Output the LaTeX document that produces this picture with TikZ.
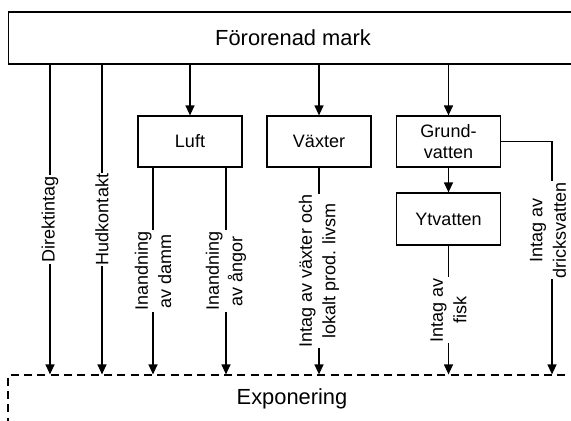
\documentclass[tikz,border=0pt]{standalone}
\usepackage{fontspec}
\setmainfont{Liberation Sans}
\usetikzlibrary{arrows.meta,positioning,calc}
\tikzset{
	box/.style={draw, line width=0.9pt, minimum width=78pt, minimum height=38.25pt,
		inner sep=0pt, align=center, font=\fontsize{13.5}{16}\selectfont},
	big/.style={box, minimum width=426.75pt, minimum height=39pt,
		font=\fontsize{16.4}{19}\selectfont},
	lab/.style={fill=white, rotate=90, inner sep=1pt, align=center,
		font=\fontsize{13.5}{17.5}\selectfont}
}

\begin{document}
\begin{tikzpicture}[x=0.75pt,y=-0.75pt,-{Triangle[length=7.5pt,width=6.75pt]},
				line width=0.9pt]
				\useasboundingbox (0,0) rectangle (571,421);
				
				\node[big] (mark) at (293,38) {Förorenad mark};
				\node[big, dash pattern=on 6pt off 4pt, minimum width=426pt, minimum height=36pt] (expo) at (292,399) {Exponering};
				
				\node[box] (luft) at (190,141.5) {Luft};
				\node[box] (vaxter) at (319,141.5) {Växter};
				\node[box] (grund) at (448.5,141.5) {Grund-\\vatten};
				\node[box, minimum height=39pt] (ytv) at (448.5,219) {Ytvatten};
				
				\coordinate (dk) at (50,0);
				\coordinate (hk) at (102,0);
				\coordinate (dm) at (153,0);
				\coordinate (ag) at (226,0);
				\coordinate (dv) at (552,0);
				
				\draw (mark.south -| luft) -- (luft);
				\draw (mark.south -| vaxter) -- (vaxter);
				\draw (mark.south -| grund) -- (grund);
				\draw (grund) -- (ytv);
				
				%direct paths
				\draw (mark.south -| dk) -- node[lab] {Direktintag} (expo.north -| dk);
				\draw (mark.south -| hk) -- node[lab] {Hudkontakt} (expo.north -| hk);
				\draw (luft.south -| dm) -- node[lab] {Inandning\\av damm} (expo.north -| dm);
				\draw (luft.south -| ag) -- node[lab] {Inandning\\av ångor} (expo.north -| ag);
				\draw (vaxter) -- node[lab] {Intag av växter och\\lokalt prod. livsm} (expo.north -| vaxter);
				\draw (ytv) -- node[lab] {Intag av\\fisk} (expo.north -| ytv);
				\draw (grund.east) -| node[lab, pos=0.69, yshift=3pt] {Intag av\\dricksvatten} (expo.north -| dv);
\end{tikzpicture}
\end{document}
